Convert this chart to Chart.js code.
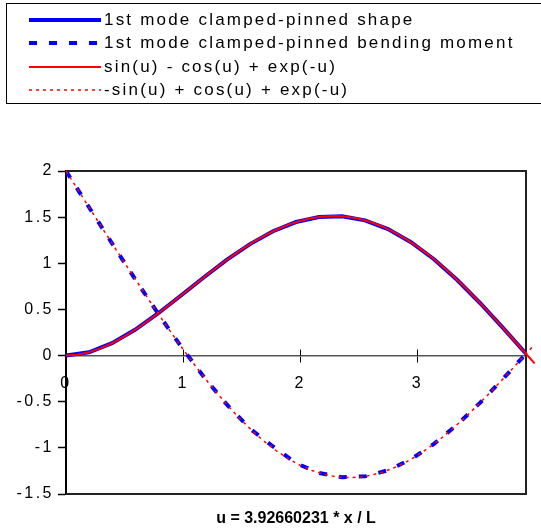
<!DOCTYPE html>
<html>
<head>
<meta charset="utf-8">
<script src="https://cdn.jsdelivr.net/npm/chart.js@4.4.1/dist/chart.umd.min.js"></script>
<style>
  html, body { margin: 0; padding: 0; background: #fff; }
  #wrap { position: relative; width: 541px; height: 529px; overflow: hidden; font-family: "Liberation Sans", Arial, sans-serif; }
  #chart { position: absolute; left: 0; top: 0; }
  #legend { position: absolute; left: 6px; top: 3px; width: 560px; height: 101px; border: 1px solid #000; box-sizing: border-box; padding-top: 4px; }
  .row { height: 23.5px; display: flex; align-items: center; padding-left: 22px; font-size: 17px; letter-spacing: 2.2px; white-space: nowrap; color: #000; }
  .row svg { margin-right: 3px; flex: none; }
  #xtitle { position: absolute; left: 66px; width: 460px; top: 508px; line-height: 20px; text-align: center; font-weight: bold; font-size: 16px; color: #000; }
</style>
</head>
<body>
<div id="wrap">
  <canvas id="chart" width="541" height="529"></canvas>
  <div id="legend"></div>
  <div id="xtitle">u = 3.92660231 * x / L</div>
</div>
<script>
// sampled mode data (21 stations along the beam)
const uShape = [0, 0.19633, 0.39266, 0.58899, 0.78532, 0.98165, 1.17798, 1.37431, 1.57064, 1.76697,
  1.9633, 2.15963, 2.35596, 2.55229, 2.74862, 2.94495, 3.14128, 3.33761, 3.53394, 3.73027, 3.9266];
const shapeValues = [0, 0.036, 0.134, 0.279, 0.456, 0.651, 0.849, 1.039, 1.208, 1.347,
  1.447, 1.502, 1.509, 1.465, 1.371, 1.228, 1.044, 0.821, 0.570, 0.300, 0.020];
const momentValues = [2.0, 1.607, 1.216, 0.831, 0.456, 0.099, -0.233, -0.533, -0.792, -0.985,
  -1.166, -1.272, -1.319, -1.309, -1.243, -1.123, -0.957, -0.750, -0.512, -0.252, 0.020];

// analytic curves, every 0.1
const uCurve = [0, 0.1, 0.2, 0.3, 0.4, 0.5, 0.6, 0.7, 0.8, 0.9, 1.0, 1.1, 1.2, 1.3, 1.4, 1.5, 1.6, 1.7, 1.8, 1.9,
  2.0, 2.1, 2.2, 2.3, 2.4, 2.5, 2.6, 2.7, 2.8, 2.9, 3.0, 3.1, 3.2, 3.3, 3.4, 3.5, 3.6, 3.7, 3.8, 3.9, 4.0];
const curveSin = [0, 0.010, 0.037, 0.081, 0.139, 0.208, 0.288, 0.376, 0.470, 0.568, 0.669, 0.770, 0.871, 0.969,
  1.062, 1.150, 1.231, 1.303, 1.366, 1.419, 1.461, 1.491, 1.508, 1.512, 1.504, 1.482, 1.447, 1.399, 1.338,
  1.265, 1.181, 1.086, 0.981, 0.867, 0.745, 0.616, 0.482, 0.343, 0.201, 0.058, -0.085];
const curveCos = [2.0, 1.800, 1.600, 1.401, 1.202, 1.005, 0.810, 0.617, 0.429, 0.245, 0.067, -0.105, -0.268, -0.424,
  -0.569, -0.704, -0.827, -0.938, -1.036, -1.120, -1.190, -1.246, -1.286, -1.312, -1.322, -1.318, -1.298, -1.264,
  -1.216, -1.155, -1.081, -0.996, -0.899, -0.793, -0.678, -0.555, -0.427, -0.294, -0.157, -0.018, 0.121];

const seriesLabels = [
  '1st mode clamped-pinned shape',
  '1st mode clamped-pinned bending moment',
  'sin(u) - cos(u) + exp(-u)',
  '-sin(u) + cos(u) + exp(-u)'
];
const xTicks = [0, 1, 2, 3];

const pairs = (xs, ys) => xs.map((x, i) => ({ x: x, y: ys[i] }));
const tickFont = { family: '"Liberation Sans", Arial, sans-serif', size: 16 };

// plot frame, wide tick text and the x ticks that cross the zero line
const framePlugin = {
  id: 'frame',
  beforeDraw(chart) {
    if ('letterSpacing' in chart.ctx) chart.ctx.letterSpacing = '2.5px';
  },
  beforeDatasetsDraw(chart) {
    const { ctx, chartArea: a } = chart;
    ctx.save();
    ctx.strokeStyle = '#222';
    ctx.lineWidth = 2;
    ctx.beginPath();
    ctx.moveTo(a.left, a.top);
    ctx.lineTo(a.right, a.top);
    ctx.lineTo(a.right, a.bottom);
    ctx.lineTo(a.left, a.bottom);
    ctx.stroke();
    ctx.restore();
  },
  afterDraw(chart) {
    const { ctx, scales } = chart;
    const y0 = scales.y.getPixelForValue(0);
    ctx.save();
    ctx.strokeStyle = '#000';
    ctx.lineWidth = 1;
    xTicks.slice(1).forEach(v => {
      const px = Math.round(scales.x.getPixelForValue(v)) + 0.5;
      ctx.beginPath();
      ctx.moveTo(px, y0 - 6);
      ctx.lineTo(px, y0);
      ctx.stroke();
    });
    ctx.restore();
  }
};

const chart = new Chart(document.getElementById('chart'), {
  type: 'line',
  data: {
    datasets: [
      { label: seriesLabels[0], data: pairs(uShape, shapeValues), borderColor: '#0000ff', borderWidth: 4, order: 2 },
      { label: seriesLabels[1], data: pairs(uShape, momentValues), borderColor: '#0000ff', borderWidth: 4, borderDash: [8, 12], order: 2 },
      { label: seriesLabels[2], data: pairs(uCurve, curveSin), borderColor: '#ff0000', borderWidth: 2, order: 1, clip: false },
      { label: seriesLabels[3], data: pairs(uCurve, curveCos), borderColor: '#ff0000', borderWidth: 1.5, borderDash: [3, 4], order: 1, clip: false }
    ]
  },
  options: {
    responsive: false,
    animation: false,
    devicePixelRatio: 1,
    layout: { padding: { top: 171, right: 15, bottom: 35, left: 0 } },
    elements: { point: { radius: 0 }, line: { tension: 0, fill: false, borderCapStyle: 'butt' } },
    plugins: { legend: { display: false }, tooltip: { enabled: false } },
    scales: {
      x: {
        type: 'linear',
        min: 0,
        max: 3.9266,
        position: { y: 0 },
        afterBuildTicks: s => { s.ticks = xTicks.map(v => ({ value: v })); },
        grid: { drawOnChartArea: false, drawTicks: true, tickLength: 6, color: '#000', tickWidth: 1 },
        border: { display: true, color: '#555', width: 1.5 },
        ticks: { color: '#000', font: tickFont, padding: 12, maxRotation: 0, autoSkip: false }
      },
      y: {
        min: -1.5,
        max: 2,
        afterFit: s => { s.width = 66; },
        grid: { drawOnChartArea: false, tickLength: 8, color: '#000', tickWidth: 1.5 },
        border: { color: '#000', width: 2 },
        ticks: { stepSize: 0.5, color: '#000', font: tickFont, padding: 4, callback: v => String(v) }
      }
    }
  },
  plugins: [framePlugin]
});

// legend drawn as html so the line samples match Excel's look
const legendEl = document.getElementById('legend');
chart.data.datasets.forEach(ds => {
  const row = document.createElement('div');
  row.className = 'row';
  const dash = ds.borderDash ? ds.borderDash.join(' ') : 'none';
  row.innerHTML =
    '<svg width="72" height="8"><line x1="0" y1="4" x2="72" y2="4" stroke="' + ds.borderColor +
    '" stroke-width="' + ds.borderWidth + '" stroke-dasharray="' + dash + '"/></svg>';
  const span = document.createElement('span');
  span.textContent = ds.label;
  row.appendChild(span);
  legendEl.appendChild(row);
});
</script>
</body>
</html>
